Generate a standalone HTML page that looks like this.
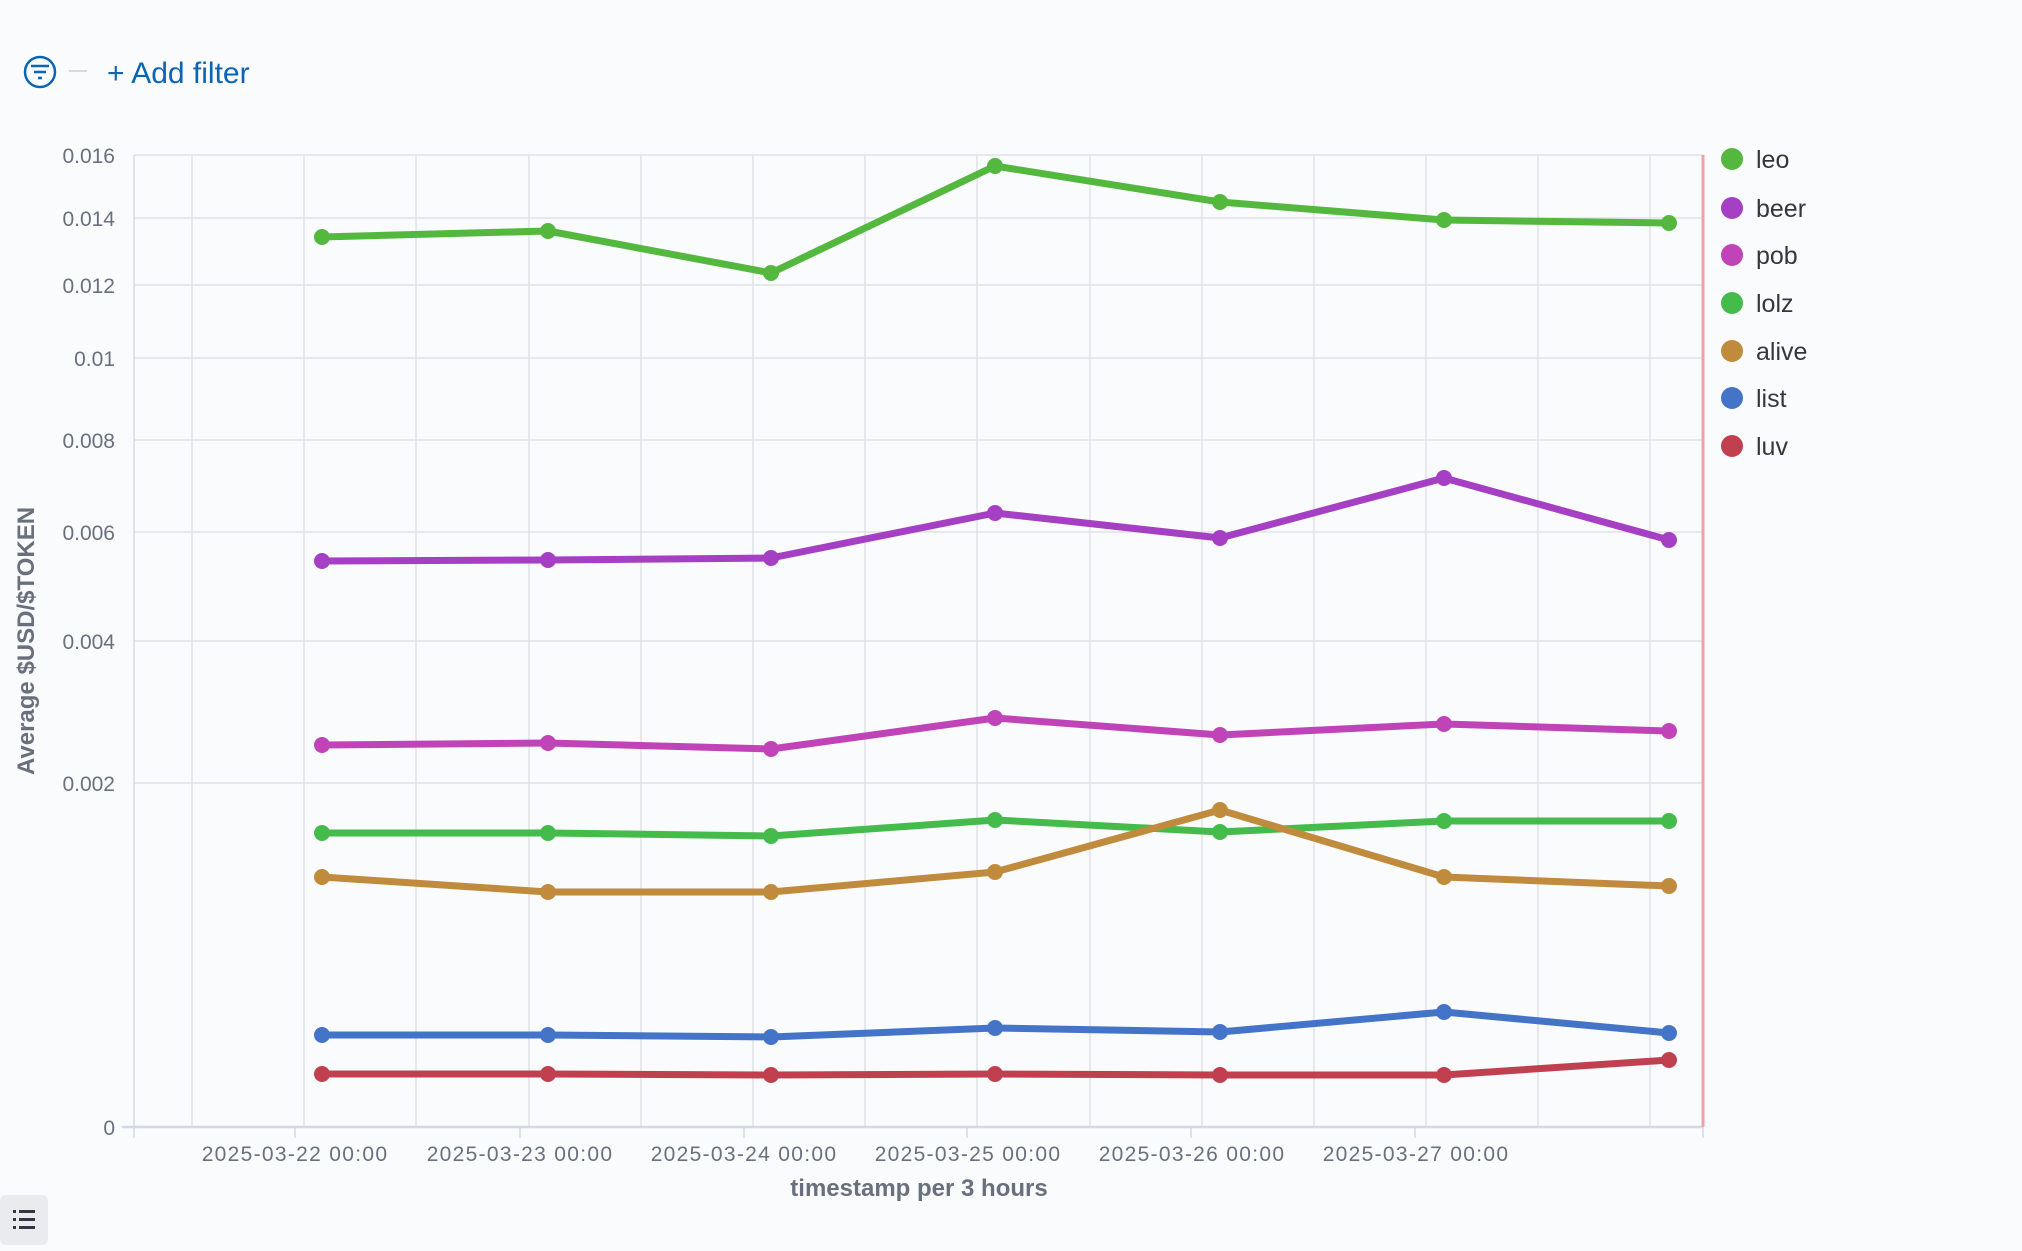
<!DOCTYPE html>
<html><head><meta charset="utf-8"><style>
html,body{margin:0;padding:0;background:#fafbfd;}
body{width:2022px;height:1246px;overflow:hidden;font-family:"Liberation Sans",sans-serif;}
</style></head><body>
<svg width="2022" height="1246" xmlns="http://www.w3.org/2000/svg" font-family="Liberation Sans, sans-serif">
<rect width="2022" height="1246" fill="#fafbfd"/>
<!-- filter bar -->
<circle cx="40" cy="72" r="15" fill="none" stroke="#0b64b4" stroke-width="2.5"/>
<line x1="31" y1="66" x2="49" y2="66" stroke="#0b64b4" stroke-width="2.5"/>
<line x1="34" y1="72" x2="46" y2="72" stroke="#0b64b4" stroke-width="2.5"/>
<line x1="38" y1="78" x2="42" y2="78" stroke="#0b64b4" stroke-width="2.5"/>
<line x1="69" y1="71" x2="87" y2="71" stroke="#d3dae6" stroke-width="2"/>
<text x="107" y="83" font-size="30" fill="#0b64b4">+ Add filter</text>
<!-- grid -->
<g stroke="#dfe1e6" stroke-width="1.5">
<line x1="134" y1="155" x2="1703" y2="155"/><line x1="134" y1="218" x2="1703" y2="218"/>
<line x1="134" y1="285" x2="1703" y2="285"/><line x1="134" y1="358" x2="1703" y2="358"/>
<line x1="134" y1="440" x2="1703" y2="440"/><line x1="134" y1="532" x2="1703" y2="532"/>
<line x1="134" y1="641" x2="1703" y2="641"/><line x1="134" y1="783" x2="1703" y2="783"/>
<line x1="192" y1="155" x2="192" y2="1127"/><line x1="304" y1="155" x2="304" y2="1127"/>
<line x1="416" y1="155" x2="416" y2="1127"/><line x1="529" y1="155" x2="529" y2="1127"/>
<line x1="641" y1="155" x2="641" y2="1127"/><line x1="753" y1="155" x2="753" y2="1127"/>
<line x1="865" y1="155" x2="865" y2="1127"/><line x1="977" y1="155" x2="977" y2="1127"/>
<line x1="1090" y1="155" x2="1090" y2="1127"/><line x1="1202" y1="155" x2="1202" y2="1127"/>
<line x1="1314" y1="155" x2="1314" y2="1127"/><line x1="1426" y1="155" x2="1426" y2="1127"/>
<line x1="1538" y1="155" x2="1538" y2="1127"/><line x1="1650" y1="155" x2="1650" y2="1127"/>
</g>
<line x1="134" y1="155" x2="134" y2="1138" stroke="#d3dae6" stroke-width="1.5"/>
<line x1="122" y1="1127" x2="1703" y2="1127" stroke="#d3dae6" stroke-width="2.5"/>
<line x1="1703" y1="155" x2="1703" y2="1127" stroke="#f0a0a8" stroke-width="3"/>
<g stroke="#d3dae6" stroke-width="1.5">
<line x1="295" y1="1127" x2="295" y2="1138"/><line x1="520" y1="1127" x2="520" y2="1138"/>
<line x1="744" y1="1127" x2="744" y2="1138"/><line x1="967" y1="1127" x2="967" y2="1138"/>
<line x1="1191" y1="1127" x2="1191" y2="1138"/><line x1="1415" y1="1127" x2="1415" y2="1138"/>
<line x1="1703" y1="1127" x2="1703" y2="1138"/>
</g>
<!-- y labels -->
<g font-size="21" fill="#69707d" text-anchor="end">
<text x="115" y="163">0.016</text><text x="115" y="226">0.014</text><text x="115" y="293">0.012</text>
<text x="115" y="366">0.01</text><text x="115" y="448">0.008</text><text x="115" y="540">0.006</text>
<text x="115" y="649">0.004</text><text x="115" y="791">0.002</text><text x="115" y="1135">0</text>
</g>
<text transform="translate(34,641) rotate(-90)" font-size="24" font-weight="bold" fill="#69707d" text-anchor="middle">Average $USD/$TOKEN</text>
<!-- x labels -->
<g font-size="21" fill="#69707d" text-anchor="middle" letter-spacing="1.3">
<text x="295" y="1161">2025-03-22 00:00</text><text x="520" y="1161">2025-03-23 00:00</text>
<text x="744" y="1161">2025-03-24 00:00</text><text x="968" y="1161">2025-03-25 00:00</text>
<text x="1192" y="1161">2025-03-26 00:00</text><text x="1416" y="1161">2025-03-27 00:00</text>
</g>
<text x="919" y="1196" font-size="24" font-weight="bold" fill="#69707d" text-anchor="middle">timestamp per 3 hours</text>
<!-- series -->
<g fill="none" stroke-width="7" stroke-linejoin="round">
<polyline stroke="#54b83f" points="322,237 548,231 771,273 995,166 1220,202 1444,220 1669,223"/>
<polyline stroke="#a53fc3" points="322,561 548,560 771,558 995,513 1220,538 1444,478 1669,540"/>
<polyline stroke="#c044b8" points="322,745 548,743 771,749 995,718 1220,735 1444,724 1669,731"/>
<polyline stroke="#44bb4a" points="322,833 548,833 771,836 995,820 1220,832 1444,821 1669,821"/>
<polyline stroke="#c08b3c" points="322,877 548,892 771,892 995,872 1220,810 1444,877 1669,886"/>
<polyline stroke="#4474c8" points="322,1035 548,1035 771,1037 995,1028 1220,1032 1444,1012 1669,1033"/>
<polyline stroke="#c04050" points="322,1074 548,1074 771,1075 995,1074 1220,1075 1444,1075 1669,1060"/>
</g>
<g>
<g fill="#54b83f"><circle cx="322" cy="237" r="8"/><circle cx="548" cy="231" r="8"/><circle cx="771" cy="273" r="8"/><circle cx="995" cy="166" r="8"/><circle cx="1220" cy="202" r="8"/><circle cx="1444" cy="220" r="8"/><circle cx="1669" cy="223" r="8"/></g>
<g fill="#a53fc3"><circle cx="322" cy="561" r="8"/><circle cx="548" cy="560" r="8"/><circle cx="771" cy="558" r="8"/><circle cx="995" cy="513" r="8"/><circle cx="1220" cy="538" r="8"/><circle cx="1444" cy="478" r="8"/><circle cx="1669" cy="540" r="8"/></g>
<g fill="#c044b8"><circle cx="322" cy="745" r="8"/><circle cx="548" cy="743" r="8"/><circle cx="771" cy="749" r="8"/><circle cx="995" cy="718" r="8"/><circle cx="1220" cy="735" r="8"/><circle cx="1444" cy="724" r="8"/><circle cx="1669" cy="731" r="8"/></g>
<g fill="#44bb4a"><circle cx="322" cy="833" r="8"/><circle cx="548" cy="833" r="8"/><circle cx="771" cy="836" r="8"/><circle cx="995" cy="820" r="8"/><circle cx="1220" cy="832" r="8"/><circle cx="1444" cy="821" r="8"/><circle cx="1669" cy="821" r="8"/></g>
<g fill="#c08b3c"><circle cx="322" cy="877" r="8"/><circle cx="548" cy="892" r="8"/><circle cx="771" cy="892" r="8"/><circle cx="995" cy="872" r="8"/><circle cx="1220" cy="810" r="8"/><circle cx="1444" cy="877" r="8"/><circle cx="1669" cy="886" r="8"/></g>
<g fill="#4474c8"><circle cx="322" cy="1035" r="8"/><circle cx="548" cy="1035" r="8"/><circle cx="771" cy="1037" r="8"/><circle cx="995" cy="1028" r="8"/><circle cx="1220" cy="1032" r="8"/><circle cx="1444" cy="1012" r="8"/><circle cx="1669" cy="1033" r="8"/></g>
<g fill="#c04050"><circle cx="322" cy="1074" r="8"/><circle cx="548" cy="1074" r="8"/><circle cx="771" cy="1075" r="8"/><circle cx="995" cy="1074" r="8"/><circle cx="1220" cy="1075" r="8"/><circle cx="1444" cy="1075" r="8"/><circle cx="1669" cy="1060" r="8"/></g>
</g>
<!-- legend -->
<g font-size="25" fill="#343741">
<circle cx="1732" cy="159" r="11" fill="#54b83f"/><text x="1756" y="168">leo</text>
<circle cx="1732" cy="208" r="11" fill="#a53fc3"/><text x="1756" y="217">beer</text>
<circle cx="1732" cy="255" r="11" fill="#c044b8"/><text x="1756" y="264">pob</text>
<circle cx="1732" cy="303" r="11" fill="#44bb4a"/><text x="1756" y="312">lolz</text>
<circle cx="1732" cy="351" r="11" fill="#c08b3c"/><text x="1756" y="360">alive</text>
<circle cx="1732" cy="398" r="11" fill="#4474c8"/><text x="1756" y="407">list</text>
<circle cx="1732" cy="446" r="11" fill="#c04050"/><text x="1756" y="455">luv</text>
</g>
<!-- bottom-left button -->
<rect x="0" y="1195" width="48" height="50" rx="6" fill="#e9ebef"/>
<g fill="#343741">
<rect x="13" y="1210" width="3" height="3"/><rect x="19" y="1210" width="16" height="3"/>
<rect x="13" y="1218" width="3" height="3"/><rect x="19" y="1218" width="16" height="3"/>
<rect x="13" y="1226" width="3" height="3"/><rect x="19" y="1226" width="16" height="3"/>
</g>
</svg>
</body></html>
